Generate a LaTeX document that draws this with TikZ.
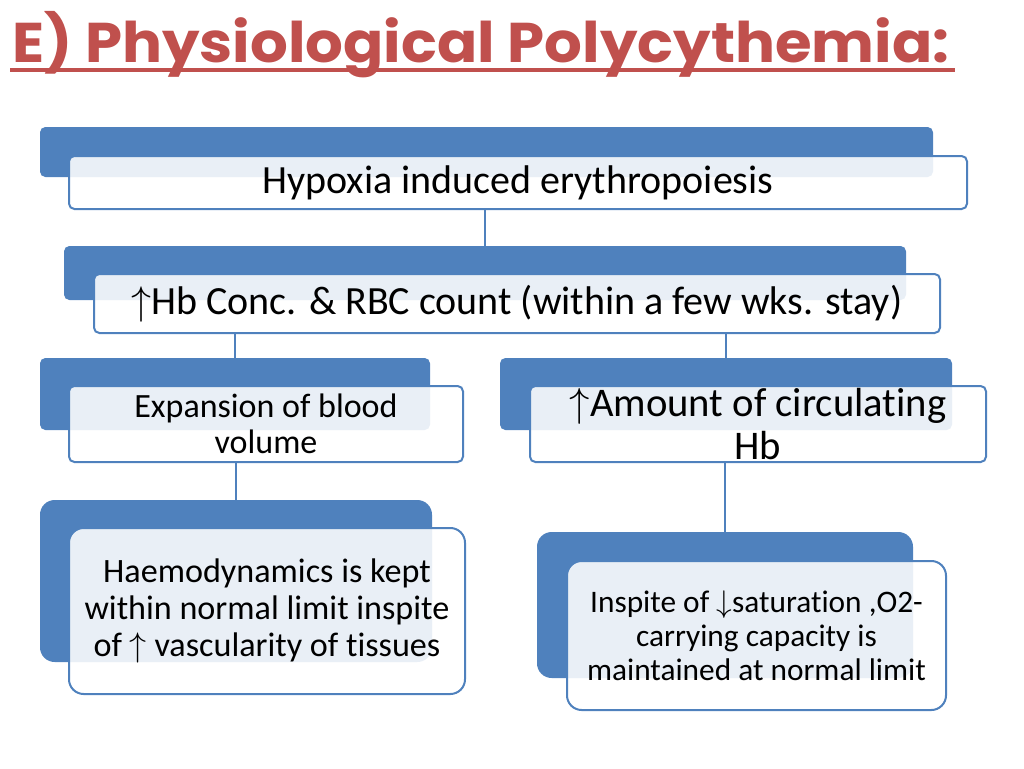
\documentclass[tikz,border=0pt]{standalone}
\usepackage{graphicx}
\usepackage{fontspec}
\setmainfont{Carlito}[Ligatures=NoCommon]
\newfontfamily\titlefont{Poppins}[FakeStretch=1.06]
\definecolor{boxblue}{HTML}{4F81BD}
\definecolor{titlered}{HTML}{C0504D}
\newcommand{\uparr}{\resizebox{!}{0.694em}{$\uparrow$}}
\newcommand{\downarr}{\resizebox{!}{0.694em}{$\downarrow$}}

\begin{document}
\begin{tikzpicture}[
			x=0.75pt, y=-0.75pt,
			size/.style 2 args = {minimum width=#1*0.75pt, minimum height=#2*0.75pt},
			back/.style = {fill=boxblue, rounded corners=4pt, inner sep=0pt},
			front/.style = {draw=boxblue, line width=1.5pt, fill=white, fill opacity=0.88, text opacity=1, rounded corners=4pt, inner sep=0pt, align=center},
			link/.style = {draw=boxblue, line width=1.6pt},
			big/.style = {rounded corners=11pt}
		]
		\useasboundingbox (0,0) rectangle (1024,768);
		\node[anchor=base west, inner sep=0pt, text=titlered, font=\titlefont\bfseries\fontsize{42}{50}\selectfont] (t) at (12,62) {E) Physiological Polycythemia:};
		\draw[titlered, line width=2.6pt] (10,70) -- (955,70);
		\node[back, size={893}{50}] (1a) at (486.5,152) {};
		\node[front, size={898}{53}, font=\fontsize{30}{36}\selectfont] (1) at (518,182.5) {Hypoxia induced erythropoiesis};
		\node[back, size={842}{54}] (2a) at (485,273) {};
		\node[front, size={846}{59}, font=\fontsize{30}{36}\selectfont] (2) at (517,303.5) {\uparr Hb Conc. \& RBC count (within a few wks. stay)};
		\node[back, size={390}{72}] (3a) at (235,394) {};
		\node[front, size={394}{76}, font=\fontsize{25.5}{27}\selectfont] (3) at (266,424) {Expansion of blood\\volume};
		\node[back, size={452}{72}] (4a) at (726,394) {};
		\node[front, size={456}{76}, font=\fontsize{30.5}{32.3}\selectfont] (4) at (758,424) {\uparr Amount of circulating\\Hb};
		\node[back, big, size={392}{162}] (5a) at (236,581) {};
		\node[front, big, size={396}{166}, font=\fontsize{25.6}{27.8}\selectfont] (5) at (267,611) {Haemodynamics is kept\\within normal limit inspite\\of \uparr{} vascularity of tissues};
		\node[back, big, size={376}{146}] (6a) at (725,605) {};
		\node[front, big, size={379}{149}, font=\fontsize{23.5}{25.5}\selectfont] (6) at (756.5,635.5) {Inspite of \downarr saturation ,O2-\\carrying capacity is\\maintained at normal limit};
		\draw[link] (1.south -| 2a.north) -- (2a.north);
		\draw[link] (2.south -| 3a.north) -- (3a.north);
		\draw[link] (2.south -| 4a.north) -- (4a.north);
		\draw[link] (3.south -| 5a.north) -- (5a.north);
		\draw[link] (4.south -| 6a.north) -- (6a.north);
	\end{tikzpicture}
\end{document}
